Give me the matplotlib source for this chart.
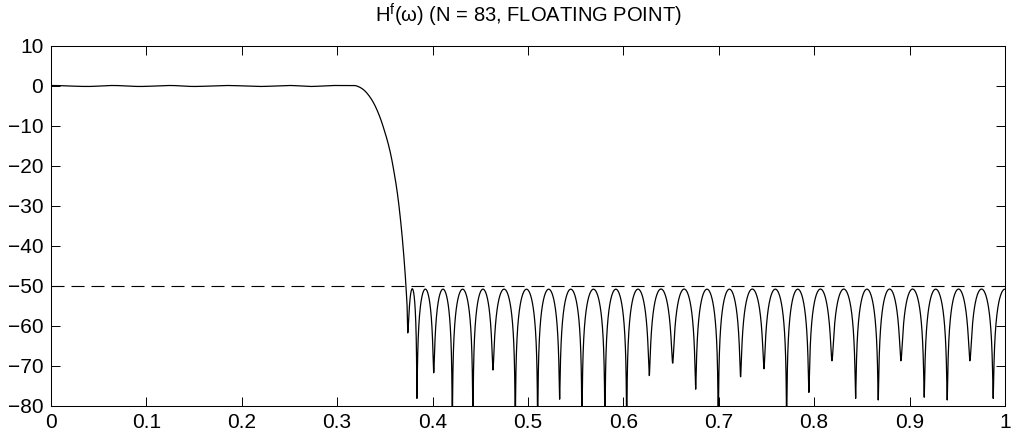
import numpy as np
import matplotlib
matplotlib.use("Agg")
import matplotlib.pyplot as plt

plt.rcParams['font.family'] = ['Liberation Sans', 'DejaVu Sans']
plt.rcParams['mathtext.fontset'] = 'custom'
plt.rcParams['mathtext.rm'] = 'Liberation Sans'
plt.rcParams['lines.scale_dashes'] = False

# passband ripple extrema (freq, dB)
pb_freq = [0.0, 0.038, 0.065, 0.093, 0.125, 0.15, 0.184, 0.219, 0.25, 0.272, 0.296, 0.312]
pb_db = [0.12, -0.12, 0.12, -0.12, 0.12, -0.12, 0.12, -0.12, 0.12, -0.12, 0.12, 0.12]

# transition band points (freq, dB), down to just above the first stopband null
tr_freq = [0.312, 0.3205, 0.3309, 0.3414, 0.348, 0.3585, 0.3648, 0.369, 0.3721, 0.3733]
tr_db = [0.12, 0.0, -1.7, -5.8, -10.0, -20.0, -30.0, -40.0, -50.0, -55.0]

# stopband nulls (freq, depth in dB); deep ones run off the bottom of the axes
null_freq = [0.3739, 0.3836, 0.4012, 0.4207, 0.4423, 0.4633, 0.4867, 0.5102, 0.5332,
             0.5566, 0.5807, 0.6035, 0.6272, 0.6517, 0.6758, 0.6995, 0.7229, 0.7474,
             0.7712, 0.7945, 0.8187, 0.8435, 0.8672, 0.8910, 0.9154, 0.9395, 0.9633,
             0.9877, 1.0123]
null_db = [-61.7, -78.1, -71.7, -110, -110, -71.0, -110, -110, -78.3,
           -110, -110, -90, -72.4, -69.3, -75.8, -110, -72.7, -70.7,
           -110, -76.6, -68.7, -78.1, -78.5, -68.7, -77.8, -78.5, -68.7,
           -78.1, -78.1]
lobe_peak_db = -50.8
spec_db = -50


def hermite(xk, yk, n=40):
    xk = np.asarray(xk, float)
    yk = np.asarray(yk, float)
    m = np.gradient(yk, xk)
    m[0] = 0.0  # ripple peak at the passband edge
    xs, ys = [], []
    for i in range(len(xk) - 1):
        h = xk[i + 1] - xk[i]
        t = np.linspace(0, 1, n, endpoint=False)
        h00 = 2 * t**3 - 3 * t**2 + 1
        h10 = t**3 - 2 * t**2 + t
        h01 = -2 * t**3 + 3 * t**2
        h11 = t**3 - t**2
        xs.append(xk[i] + t * h)
        ys.append(h00 * yk[i] + h10 * h * m[i] + h01 * yk[i + 1] + h11 * h * m[i + 1])
    xs.append([xk[-1]])
    ys.append([yk[-1]])
    return np.concatenate(xs), np.concatenate(ys)


# passband: smooth cosine between ripple extrema
px, py = [], []
for i in range(len(pb_freq) - 1):
    t = np.linspace(0, 1, 30, endpoint=False)
    px.append(pb_freq[i] + t * (pb_freq[i + 1] - pb_freq[i]))
    py.append(pb_db[i] + (pb_db[i + 1] - pb_db[i]) * (1 - np.cos(np.pi * t)) / 2)
px = np.concatenate(px)
py = np.concatenate(py)

tx, ty = hermite(tr_freq, tr_db)

# stopband lobes between the nulls
A = 10 ** (lobe_peak_db / 20)
sx, sy = [], []
for i in range(len(null_freq) - 1):
    t = np.linspace(0, 1, 300, endpoint=False)
    f0 = 10 ** (null_db[i] / 20)
    f1 = 10 ** (null_db[i + 1] / 20)
    amp = np.sqrt((A * np.sin(np.pi * t)) ** 2 + ((1 - t) * f0 + t * f1) ** 2)
    sx.append(null_freq[i] + t * (null_freq[i + 1] - null_freq[i]))
    sy.append(20 * np.log10(amp))
sx = np.concatenate(sx)
sy = np.concatenate(sy)

freq = np.concatenate([px, tx, sx])
mag = np.concatenate([py, ty, sy])
keep = freq <= 1.0
freq, mag = freq[keep], mag[keep]

fig = plt.figure(figsize=(10.12, 4.4), dpi=100)
ax = fig.add_axes([0.0504, 0.0773, 0.9426, 0.8182])

ax.plot(freq, mag, color='black', lw=0.9)
ax.plot([0, 1], [spec_db, spec_db], color='black', lw=0.8, dashes=(9.4, 5))

ax.set_xlim(0, 1)
ax.set_ylim(-80, 10)
ax.set_xticks(np.arange(0, 1.01, 0.1))
ax.set_xticklabels(['0', '0.1', '0.2', '0.3', '0.4', '0.5', '0.6', '0.7', '0.8', '0.9', '1'])
ax.set_yticks(np.arange(-80, 11, 10))
ax.set_yticklabels([str(v).replace('-', '\u2212') for v in range(-80, 11, 10)])
ax.tick_params(direction='in', length=6.5, width=0.7, top=True, right=True,
               labelsize=15, colors='black')
ax.tick_params(axis='x', pad=5)
ax.tick_params(axis='y', pad=5.5)
for s in ax.spines.values():
    s.set_linewidth(0.75)

ax.set_title(r'H$^{\mathrm{f}}$(ω) (N = 83, FLOATING POINT)', fontsize=14.5, pad=17)

fig.savefig('out.png', dpi=100)
